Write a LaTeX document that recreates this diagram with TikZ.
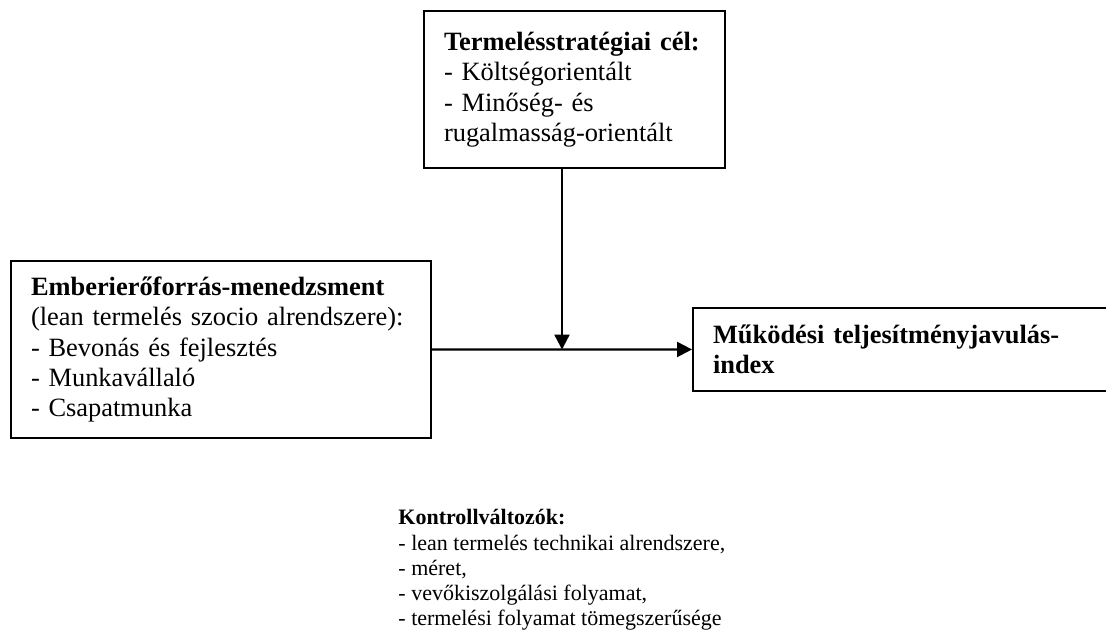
\documentclass[tikz,border=0pt]{standalone}
\usepackage{fontspec}
\setmainfont{Liberation Serif}
\usetikzlibrary{arrows.meta}

\tikzset{
	doboz/.style={draw, line width=0.9pt, align=left, anchor=north west, inner xsep=9.1pt, inner ysep=0pt, font=\fontsize{12}{13.8}\selectfont},
	nyil/.style={line width=1pt, -{Triangle[length=6.8pt, width=6.8pt]}}
}

\begin{document}
\begin{tikzpicture}[x=0.4545pt, y=-0.4545pt]
	\useasboundingbox (0,0) rectangle (1106,640);

	\node[doboz, text width=118.4pt, minimum height=71.4pt] (cel) at (423,10) {\textbf{Termelésstratégiai cél:}\\- Költségorientált\\- Minőség- és\\rugalmasság-orientált};
	\node[doboz, text width=172.7pt, minimum height=80.5pt] (hrm) at (10,260) {\textbf{Emberierőforrás-menedzsment}\\(lean termelés szocio alrendszere):\\- Bevonás és fejlesztés\\- Munkavállaló\\- Csapatmunka};
	\node[doboz, text width=186.3pt, minimum height=37.7pt, font=\fontsize{12}{13.8}\selectfont\bfseries] (idx) at (692,307) {Működési teljesítményjavulás-\\index};

	% Draw the arrows
	\coordinate (fel) at (562,0);
	\coordinate (csp) at (fel |- hrm.east);
	\draw[nyil] (hrm.east) -- (idx.west);
	\draw[nyil] (cel.south -| csp) -- (csp);

	\node[anchor=north west, align=left, inner sep=0pt, font=\fontsize{10}{11.5}\selectfont] (kontroll) at (398,509) {\textbf{Kontrollváltozók:}\\- lean termelés technikai alrendszere,\\- méret,\\- vevőkiszolgálási folyamat,\\- termelési folyamat tömegszerűsége};
\end{tikzpicture}
\end{document}
